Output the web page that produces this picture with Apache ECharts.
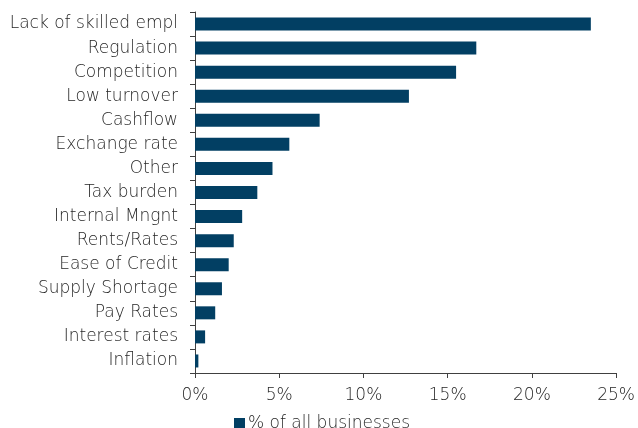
<!DOCTYPE html>
<html>
<head>
<meta charset="utf-8">
<script src="https://cdn.jsdelivr.net/npm/echarts@6/dist/echarts.min.js"></script>
<style>
  html, body { margin: 0; padding: 0; background: #fff; }
  #chart { width: 638px; height: 428px; }
</style>
</head>
<body>
<div id="chart"></div>
<script>
// Barriers cited, top to bottom
const categories = [
  'Lack of skilled empl', 'Regulation', 'Competition', 'Low turnover', 'Cashflow',
  'Exchange rate', 'Other', 'Tax burden', 'Internal Mngnt', 'Rents/Rates',
  'Ease of Credit', 'Supply Shortage', 'Pay Rates', 'Interest rates', 'Inflation'
];
// Share of all businesses, in percent
const shareValues = [23.5, 16.7, 15.5, 12.7, 7.4, 5.6, 4.6, 3.7, 2.8, 2.3, 2.0, 1.6, 1.2, 0.6, 0.2];
const seriesName = '% of all businesses';
const xTicks = { min: 0, max: 25, step: 5 };

const textColor = '#262626';
const fontFamily = '"DejaVu Sans", sans-serif';
const fontSize = 17;

const chart = echarts.init(document.getElementById('chart'), null, { renderer: 'canvas' });
chart.setOption({
  animation: false,
  grid: { left: 195, right: 21, top: 12, bottom: 55, containLabel: false },
  legend: {
    data: [{ name: seriesName, icon: 'rect' }],
    left: 229, top: 410,
    itemWidth: 11, itemHeight: 11, itemGap: 4,
    textStyle: { color: textColor, fontSize: fontSize, fontFamily: fontFamily, fontWeight: 200, padding: [0, 0, 0, -2] }
  },
  xAxis: {
    type: 'value',
    min: xTicks.min, max: xTicks.max, interval: xTicks.step,
    axisLine: { show: true, lineStyle: { color: '#404040', width: 1 } },
    axisTick: { show: true, length: 5, lineStyle: { color: '#404040' } },
    splitLine: { show: false },
    axisLabel: {
      formatter: v => v + '%', color: textColor, fontSize: fontSize, fontFamily: fontFamily,
      fontWeight: 200, margin: 14
    }
  },
  yAxis: {
    type: 'category',
    data: categories.slice().reverse(),
    axisLine: { show: true, lineStyle: { color: '#404040', width: 1 } },
    axisTick: { show: true, length: 5, alignWithLabel: false, lineStyle: { color: '#404040' } },
    axisLabel: { color: textColor, fontSize: fontSize, fontFamily: fontFamily, fontWeight: 200, margin: 17 }
  },
  series: [{
    name: seriesName,
    type: 'bar',
    data: shareValues.slice().reverse(),
    barWidth: 13,
    itemStyle: { color: '#023f63' }
  }]
});
</script>
</body>
</html>
